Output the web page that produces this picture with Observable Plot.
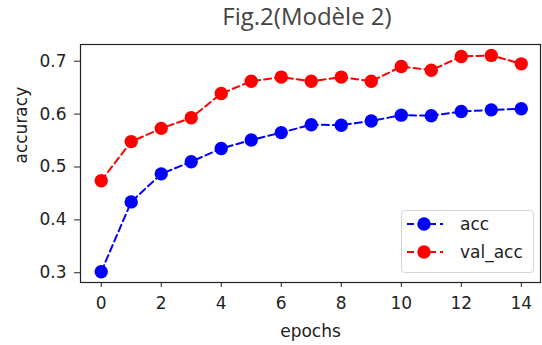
<!DOCTYPE html>
<html>
<head>
<meta charset="utf-8">
<script src="https://cdn.jsdelivr.net/npm/d3@7"></script>
<script src="https://cdn.jsdelivr.net/npm/@observablehq/plot@0.6"></script>
<style>
  html, body { margin: 0; padding: 0; background: #fff; }
  #wrap { position: relative; width: 542px; height: 345px; font-family: "DejaVu Sans", sans-serif; }
  #title { position: absolute; left: 0; top: 4px; width: 542px; padding-left: 72px; box-sizing: border-box; text-align: center; font-family: "Open Sans", sans-serif; font-size: 24px; line-height: 23px; color: #444; }
  #chart { position: absolute; left: 0; top: 35px; }
  #legend { position: absolute; left: 401px; top: 210px; width: 131px; height: 61px; border: 1px solid #d6d6d6; border-radius: 4px; background: rgba(255,255,255,0.85); font-size: 17px; color: #222; }
  .row { position: absolute; left: 0; height: 20px; display: flex; align-items: center; }
  .row svg { margin-left: 4px; }
  .row span { margin-left: 16px; }
</style>
</head>
<body>
<div id="wrap">
  <div id="title">Fig.2(Modèle 2)</div>
  <div id="chart"></div>
  <div id="legend"></div>
</div>
<script>
const epochs = [0, 1, 2, 3, 4, 5, 6, 7, 8, 9, 10, 11, 12, 13, 14];
const acc = [0.302, 0.434, 0.487, 0.510, 0.535, 0.551, 0.565, 0.580, 0.579, 0.587, 0.598, 0.597, 0.605, 0.608, 0.610];
const valAcc = [0.474, 0.548, 0.573, 0.593, 0.639, 0.662, 0.670, 0.662, 0.670, 0.662, 0.690, 0.683, 0.709, 0.711, 0.695];
const seriesNames = ["acc", "val_acc"];
const seriesColors = ["#0000ff", "#ff0000"];
const xTicks = [0, 2, 4, 6, 8, 10, 12, 14];
const yTicks = [0.3, 0.4, 0.5, 0.6, 0.7];
const xLabel = "epochs";
const yLabel = "accuracy";

const rows = [];
[acc, valAcc].forEach((vals, i) => vals.forEach((v, j) => rows.push({epoch: epochs[j], value: v, series: seriesNames[i]})));

const chart = Plot.plot({
  width: 542,
  height: 310,
  marginTop: 9,
  marginBottom: 63,
  marginLeft: 80,
  marginRight: 2,
  style: {fontFamily: "DejaVu Sans, sans-serif", fontSize: "17px", color: "#222", background: "transparent"},
  x: {domain: [-0.69, 14.64], ticks: xTicks, tickSize: 5, tickPadding: 9, label: null, tickFormat: d => String(d)},
  y: {domain: [0.2816, 0.7316], ticks: yTicks, tickSize: 6, tickPadding: 8, label: null, tickFormat: d3.format(".1f")},
  color: {domain: seriesNames, range: seriesColors},
  marks: [
    Plot.line(rows, {x: "epoch", y: "value", z: "series", stroke: "series", strokeWidth: 2, strokeDasharray: "7,4"}),
    Plot.dot(rows, {x: "epoch", y: "value", fill: "series", r: 6.7, stroke: "none"}),
    Plot.frame({stroke: "#222", strokeWidth: 1.2}),
    Plot.text([xLabel], {text: d => d, frameAnchor: "bottom", dy: 49, lineAnchor: "middle", fontSize: 17, fill: "#222"}),
    Plot.text([yLabel], {text: d => d, frameAnchor: "left", dx: -59, rotate: -90, lineAnchor: "middle", fontSize: 17, fill: "#222"})
  ]
});
document.getElementById("chart").appendChild(chart);

const legend = document.getElementById("legend");
seriesNames.forEach((name, i) => {
  const row = document.createElement("div");
  row.className = "row";
  row.style.top = (3 + i * 28) + "px";
  row.innerHTML = `<svg width="38" height="20"><line x1="1" y1="10" x2="37" y2="10" stroke="${seriesColors[i]}" stroke-width="2" stroke-dasharray="7,4"/><circle cx="18" cy="10" r="6.7" fill="${seriesColors[i]}"/></svg><span>${name}</span>`;
  legend.appendChild(row);
});
</script>
</body>
</html>
